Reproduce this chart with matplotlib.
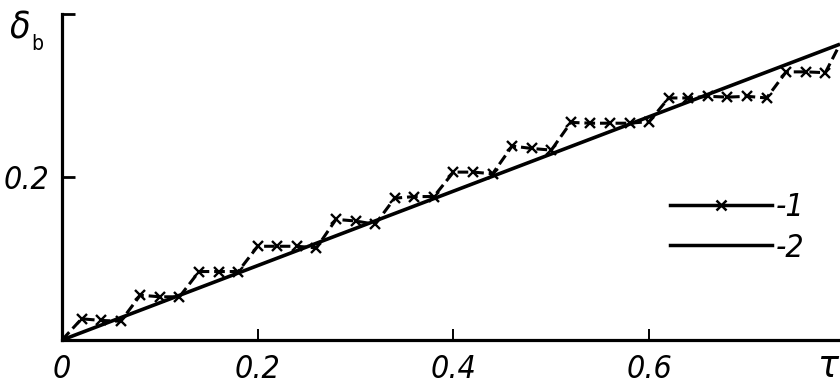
import matplotlib
matplotlib.use("Agg")
import matplotlib.pyplot as plt
from matplotlib.lines import Line2D

# ── Data ────────────────────────────────────────────────────────────────────
# curve 1: stepwise (dashed, x markers)
tau_1 = [0.00,
         0.02, 0.04, 0.06,
         0.08, 0.10, 0.12,
         0.14, 0.16, 0.18,
         0.20, 0.22, 0.24, 0.26,
         0.28, 0.30, 0.32,
         0.34, 0.36, 0.38,
         0.40, 0.42, 0.44,
         0.46, 0.48, 0.50,
         0.52, 0.54, 0.56, 0.58, 0.60,
         0.62, 0.64, 0.66, 0.68, 0.70, 0.72,
         0.74, 0.76, 0.78,
         0.795]
delta_1 = [0.000,
           0.026, 0.024, 0.023,
           0.055, 0.053, 0.053,
           0.084, 0.084, 0.084,
           0.115, 0.115, 0.115, 0.113,
           0.148, 0.146, 0.142,
           0.174, 0.176, 0.176,
           0.206, 0.206, 0.204,
           0.238, 0.235, 0.233,
           0.267, 0.266, 0.266, 0.266, 0.268,
           0.297, 0.297, 0.299, 0.298, 0.299, 0.297,
           0.329, 0.329, 0.328,
           0.363]
# curve 2: straight line
tau_2 = [0.0, 0.795]
delta_2 = [0.0, 0.363]

x_ticks = [0, 0.2, 0.4, 0.6]
x_tick_labels = ["0", "0.2", "0.4", "0.6"]
y_ticks = [0.2, 0.4]
y_tick_labels = ["0.2", ""]
legend_labels = ["-1", "-2"]

plt.rcParams["font.family"] = ["DejaVu Sans"]
plt.rcParams["font.stretch"] = "condensed"
FS = 23

fig = plt.figure(figsize=(8.4, 3.89), dpi=100)
ax = fig.add_axes([62 / 840, 49 / 389, 778 / 840, 326 / 389])

ax.plot(tau_2, delta_2, color="k", lw=2.6, solid_capstyle="butt")
ax.plot(tau_1, delta_1, color="k", lw=2.2, ls=(0, (3.5, 1.6)),
        marker="x", ms=7, mew=1.7,
        markevery=list(range(1, len(tau_1) - 1)))

ax.set_xlim(0, 0.795)
ax.set_ylim(0, 0.4)

for side in ["top", "right"]:
    ax.spines[side].set_visible(False)
for side in ["left", "bottom"]:
    ax.spines[side].set_linewidth(2.3)

ax.set_xticks(x_ticks)
ax.set_xticklabels(x_tick_labels, fontsize=FS, style="italic")
ax.set_yticks(y_ticks)
ax.set_yticklabels(y_tick_labels, fontsize=FS, style="italic")
ax.tick_params(axis="x", direction="in", length=8, width=1.4, pad=10)
ax.tick_params(axis="y", direction="in", length=9, width=2.0, pad=9)

# axis names
fig.text(9 / 840, 1 - 27 / 389, r"$\delta$", fontsize=FS + 4, ha="left", va="center")
fig.text(31 / 840, 1 - 44 / 389, "b", fontsize=15, ha="left", va="center")
fig.text(829 / 840, 1 - 366 / 389, r"$\tau$", fontsize=FS + 5, ha="center", va="center")

handles = [Line2D([], [], color="k", lw=2.5, marker="x", ms=7, mew=1.8),
           Line2D([], [], color="k", lw=2.5)]
ax.legend(handles, legend_labels, loc="center left", bbox_to_anchor=(0.765, 0.344),
          frameon=False, handlelength=3.2, handletextpad=0.12,
          labelspacing=0.3, borderaxespad=0, prop={"style": "italic", "size": FS})

fig.savefig("out.png", dpi=100)
